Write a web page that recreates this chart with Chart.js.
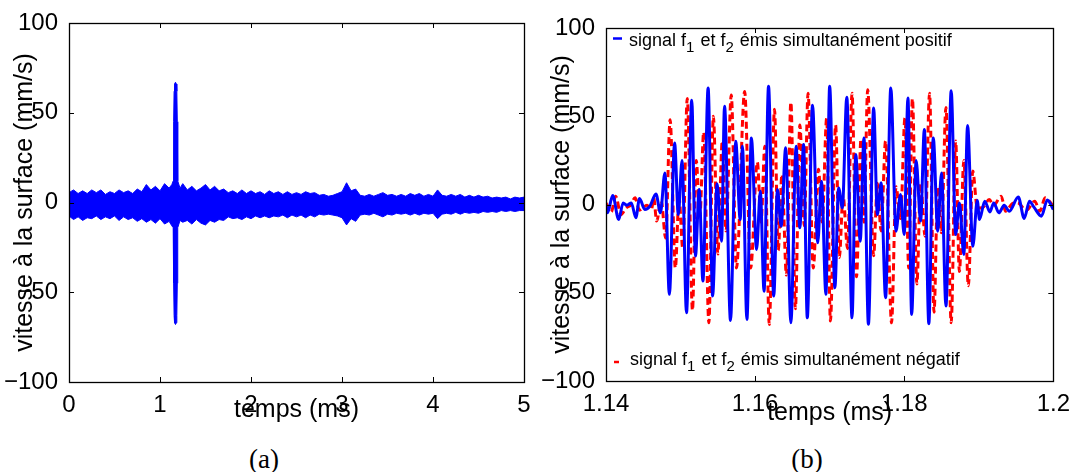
<!DOCTYPE html>
<html>
<head>
<meta charset="utf-8">
<script src="https://cdn.jsdelivr.net/npm/chart.js@4.4.0/dist/chart.umd.min.js"></script>
<style>
  body { margin: 0; background: #fff; width: 1071px; height: 472px; position: relative; overflow: hidden; }
  .panel { position: absolute; top: 0; height: 440px; }
  #wa { left: 0; width: 540px; }
  #wb { left: 540px; width: 531px; }
  .cap { position: absolute; top: 444px; width: 100px; text-align: center; line-height: 30px;
         font-family: "Liberation Serif", serif; font-size: 27px; color: #000; }
</style>
</head>
<body>
<div class="panel" id="wa"><canvas id="chartA"></canvas></div>
<div class="panel" id="wb"><canvas id="chartB"></canvas></div>
<div class="cap" style="left:214px">(a)</div>
<div class="cap" style="left:757px">(b)</div>
<script>
// (a) full record: envelope of the noisy band + spike at 1.17 ms
const timeA = [0, 0.05, 0.1, 0.15, 0.2, 0.25, 0.3, 0.35, 0.4, 0.45, 0.5, 0.55, 0.6, 0.65, 0.7, 0.75, 0.8, 0.85, 0.9, 0.95,
  1.0, 1.05, 1.1, 1.13, 1.145, 1.15, 1.155, 1.16, 1.17, 1.18, 1.185, 1.19, 1.195, 1.22, 1.25, 1.3, 1.35, 1.4, 1.45,
  1.5, 1.55, 1.6, 1.65, 1.7, 1.75, 1.8, 1.85, 1.9, 1.95, 2.0, 2.05, 2.1, 2.15, 2.2, 2.25, 2.3, 2.35, 2.4, 2.45,
  2.5, 2.55, 2.6, 2.65, 2.7, 2.75, 2.8, 2.85, 2.9, 2.95, 3.0, 3.05, 3.1, 3.15, 3.2, 3.25, 3.3, 3.35, 3.4, 3.45,
  3.5, 3.55, 3.6, 3.65, 3.7, 3.75, 3.8, 3.85, 3.9, 3.95, 4.0, 4.05, 4.1, 4.15, 4.2, 4.25, 4.3, 4.35, 4.4, 4.45,
  4.5, 4.55, 4.6, 4.65, 4.7, 4.75, 4.8, 4.85, 4.9, 4.95, 5.0]
const upperA = [5.5, 7, 5, 6.5, 5, 7, 5.5, 7, 4.5, 6, 5, 7, 5.5, 6.5, 5, 7.5, 6, 10, 7, 9,
  6.5, 10.5, 8, 10, 12, 45, 62, 66, 67, 66, 62, 45, 12, 8, 10.5, 7, 9, 6.5, 8,
  10, 7, 9, 6.5, 7.5, 5.5, 6.5, 5, 7, 5, 6.5, 5, 6, 4.5, 6.5, 5, 6, 4.5, 6, 4.5,
  5.5, 4.5, 6, 5, 5.5, 4, 4.5, 3.5, 4, 5, 6, 11, 6.5, 7.5, 4, 3.5, 4.5, 3.5, 4.5, 5.5,
  4, 4.5, 3.5, 4.5, 3.5, 5, 4, 5, 3.5, 4.5, 3.5, 7, 4, 3.5, 4.5, 3.5, 4.5, 3, 4, 3,
  4, 3, 3.5, 2.5, 3, 2.5, 3, 2, 3, 2.5, 3]
const lowerA = [-7.5, -9.5, -8, -10, -8.5, -9, -7.5, -9.5, -8, -9, -7.5, -10, -8, -9.5, -8.5, -10.5, -9, -11, -9.5, -11.5,
  -9, -12, -10.5, -13, -14, -45, -63, -67, -68, -67, -63, -45, -14, -10, -11, -10, -12, -9.5, -11.5,
  -12.5, -10, -11, -9.5, -10, -8, -9, -8.5, -9.5, -8, -9, -7.5, -8.5, -7.5, -8.5, -7.5, -8, -7, -8.5, -7,
  -8, -7, -8.5, -7, -8, -6.5, -7, -6.5, -7, -7.5, -8.5, -12.5, -9, -10.5, -7, -6.5, -7, -6, -7, -8,
  -6.5, -7, -6, -6.5, -6, -7, -6, -7, -6, -6.5, -6, -9, -6.5, -6, -6.5, -5.5, -6.5, -5.5, -6, -5.5,
  -6, -5, -5.5, -5, -5.5, -4.5, -5, -4.5, -5, -4.5, -4.5]

// (b) zoom on the burst: extrema
const timeBlue = [1.14, 1.1402, 1.1409, 1.1417, 1.1423, 1.1428, 1.1434, 1.144, 1.1445, 1.1452, 1.1459, 1.1467, 1.1473,
  1.1479, 1.1485, 1.1492, 1.1497, 1.1502, 1.1508, 1.1515, 1.152, 1.1525, 1.153, 1.1537, 1.1543, 1.1549, 1.1555,
  1.1559, 1.1567, 1.1574, 1.158, 1.1583, 1.1589, 1.1595, 1.1602, 1.1607, 1.1612, 1.1618, 1.1625, 1.163, 1.1635,
  1.1641, 1.1648, 1.1655, 1.166, 1.1665, 1.167, 1.1677, 1.1684, 1.1689, 1.1695, 1.17, 1.1707, 1.1712, 1.1717,
  1.1723, 1.173, 1.1735, 1.1741, 1.1746, 1.1752, 1.1759, 1.1764, 1.1769, 1.1775, 1.1782, 1.1789, 1.1795, 1.18,
  1.1805, 1.181, 1.1816, 1.1822, 1.1827, 1.1833, 1.1839, 1.1845, 1.185, 1.1856, 1.1863, 1.1869, 1.1874, 1.188,
  1.1885, 1.1892, 1.1898, 1.1901, 1.1908, 1.1915, 1.192, 1.1927, 1.1934, 1.1941, 1.1953, 1.1961, 1.1968, 1.1974,
  1.1984, 1.1992, 1.2]
const blueValues = [-0.9, -4.7, 5.1, -8.5, 0.9, -0.4, 0.9, -7.5, 3.4, -2.8, -0.9, 6, -4.7,
  17.9, -50.9, 34.9, -5.7, 24.9, -61.3, 59.1, -29.2, 8.5, -43.4, 66, -51.9, 11.7, -20.8,
  55.7, -65.7, 35.8, -8.5, 33, -65.1, 37.7, -25.5, 7.5, -49.1, 67, -51.9, 8.5, -12.3,
  32.1, -67, 33, -13.2, 34, -64.2, 56.2, -21.7, 13.2, -50.9, 67, -47.2, 9.4, -1.9,
  60.8, -64.2, 28.3, -20.8, 37.7, -67.9, 54.7, -5.7, 12.3, -52.8, 66, -15.1, 5.7, -17,
  60.4, -62.3, 24.9, -9.4, 42.5, -67.5, 37.7, -15.1, 17.9, -57.5, 64.5, -17, 0.9, -28.3,
  44.7, -23.6, 2.3, -8.5, 1.9, -4.2, 0.9, -4.7, -0.4, -3.8, 4.2, -7.9, 1.9, -1.5,
  -6.6, 2.5, -2.8]

const timeRed = [1.14, 1.1407, 1.1413, 1.142, 1.1427, 1.1433, 1.1439, 1.1445, 1.1455, 1.1461, 1.1464, 1.1468, 1.1474,
  1.148, 1.1486, 1.1493, 1.1498, 1.1503, 1.1509, 1.1516, 1.1521, 1.1526, 1.1531, 1.1538, 1.1544, 1.155, 1.1556,
  1.1561, 1.1568, 1.1575, 1.1586, 1.1594, 1.1603, 1.1608, 1.1613, 1.1619, 1.1626, 1.1631, 1.1636, 1.1642, 1.1648,
  1.1654, 1.166, 1.1666, 1.1671, 1.1678, 1.1685, 1.169, 1.1696, 1.1701, 1.1708, 1.1713, 1.1718, 1.1724, 1.173,
  1.1736, 1.1742, 1.1746, 1.1751, 1.1759, 1.1764, 1.1769, 1.1775, 1.1783, 1.1789, 1.1795, 1.1801, 1.1806, 1.1811,
  1.1817, 1.1822, 1.1828, 1.1834, 1.184, 1.1845, 1.185, 1.1856, 1.1863, 1.1869, 1.1874, 1.188, 1.1886, 1.1892,
  1.1898, 1.1905, 1.1914, 1.192, 1.193, 1.1936, 1.1945, 1.1952, 1.1964, 1.1975, 1.1982, 1.1989, 1.2]
const redValues = [0.9, -4.2, 4.7, -5.7, -1.9, -0.4, 3.8, -3.2, -0.4, -2.8, 3.7, -9.4, 2.3,
  -19, 48, -36, 4, -25, 60, -60, 25, -6, 41, -67, 50, -28, 36,
  -15, 62, -36, 64, -36, 24, -10, 33, -68, 54, -26, 17, -40, 58,
  -59, 45, -12, 63, -36, 20, -10, 49, -66, 45, -30, 5, -25, 63,
  -41, 37, -10, 65, -29, 12, -15, 36, -67, 10, -8, 49, -36, 60,
  -45, 12, -18, 63, -61, 10, -16, 55, -67, 36, -38, 25, -46, 19,
  -2, -1.9, 2.8, -0.5, 4.7, -3.8, 0.5, 1, -3.4, 1.9, -3.8, 3.8, -0.9]

const yTicks = [-100, -50, 0, 50, 100]
const xTicksA = [0, 1, 2, 3, 4, 5]
const xTicksB = [1.14, 1.16, 1.18, 1.2]
const labelPos = "signal f_1 et f_2 émis simultanément positif"
const labelNeg = "signal f_1 et f_2 émis simultanément négatif"

const FONT = '"Liberation Sans", Arial, sans-serif'
const toXY = (xs, ys) => xs.map((x, i) => ({ x: x, y: ys[i] }))
const fmt = (v) => String(Number(v.toFixed(2))).replace('-', '\u2212')

// MATLAB style box with inward ticks on all four sides
const framePlugin = {
    id: 'frame',
    afterDatasetsDraw(chart) {
        const { ctx, chartArea: a, scales: { x, y } } = chart
        ctx.save()
        ctx.strokeStyle = '#000'
        ctx.lineWidth = 1
        ctx.beginPath()
        x.ticks.forEach((t) => {
            const px = Math.round(x.getPixelForValue(t.value)) + 0.5
            ctx.moveTo(px, a.bottom); ctx.lineTo(px, a.bottom - 5)
            ctx.moveTo(px, a.top); ctx.lineTo(px, a.top + 5)
        })
        y.ticks.forEach((t) => {
            const py = Math.round(y.getPixelForValue(t.value)) + 0.5
            ctx.moveTo(a.left, py); ctx.lineTo(a.left + 5, py)
            ctx.moveTo(a.right, py); ctx.lineTo(a.right - 5, py)
        })
        ctx.stroke()
        ctx.lineWidth = 1.3
        ctx.strokeRect(Math.round(a.left) + 0.5, Math.round(a.top) + 0.5, Math.round(a.width), Math.round(a.height))
        ctx.restore()
    }
}

// legend entries with subscripts: first one top-left, second bottom-left
function drawLabel(ctx, text, x, y, size) {
    const parts = text.split(/_(\d)/)
    parts.forEach((p, i) => {
        const sub = i % 2 === 1
        ctx.font = (sub ? Math.round(size * 0.85) : size) + 'px ' + FONT
        ctx.fillText(p, x, sub ? y + 6 : y)
        x += ctx.measureText(p).width + (sub ? 1 : 0)
    })
}
const legendPlugin = {
    id: 'subLegend',
    afterDatasetsDraw(chart) {
        const { ctx, chartArea: a } = chart
        const ds = chart.data.datasets
        ctx.save()
        ctx.fillStyle = '#000'
        ctx.textBaseline = 'alphabetic'
        ctx.lineWidth = 2.5
        ctx.strokeStyle = ds[0].borderColor
        ctx.beginPath(); ctx.moveTo(a.left + 7, a.top + 10.5); ctx.lineTo(a.left + 16, a.top + 10.5); ctx.stroke()
        drawLabel(ctx, ds[0].label, a.left + 23, a.top + 18, 18)
        ctx.strokeStyle = ds[1].borderColor
        ctx.beginPath(); ctx.moveTo(a.left + 8, a.bottom - 19); ctx.lineTo(a.left + 13, a.bottom - 19); ctx.stroke()
        drawLabel(ctx, ds[1].label, a.left + 24, a.bottom - 16, 18)
        ctx.restore()
    }
}

function axes(xMin, xMax, xTicks, yWidth, yTitlePad, xTitlePad) {
    return {
        x: {
            type: 'linear', min: xMin, max: xMax,
            grid: { display: false }, border: { display: false },
            afterBuildTicks: (s) => { s.ticks = xTicks.map((v) => ({ value: v })) },
            afterFit: (s) => { s.height = 50 },
            ticks: { color: '#000', padding: 1, maxRotation: 0, font: { family: FONT, size: 24 }, callback: (v) => fmt(v) },
            title: { display: true, text: 'temps (ms)', color: '#000', padding: { top: 0, bottom: xTitlePad }, font: { family: FONT, size: 25 } }
        },
        y: {
            min: -100, max: 100,
            grid: { display: false }, border: { display: false },
            afterBuildTicks: (s) => { s.ticks = yTicks.map((v) => ({ value: v })) },
            afterFit: (s) => { s.width = yWidth },
            ticks: { color: '#000', padding: 3, font: { family: FONT, size: 24 }, callback: (v) => fmt(v) },
            title: { display: true, text: 'vitesse à la surface (mm/s)', color: '#000', padding: { top: yTitlePad, bottom: 0 }, font: { family: FONT, size: 25 } }
        }
    }
}

new Chart(document.getElementById('chartA'), {
    type: 'line',
    data: {
        datasets: [
            { data: toXY(timeA, upperA), borderColor: '#0000ff', borderWidth: 1, pointRadius: 0, fill: false },
            { data: toXY(timeA, lowerA), borderColor: '#0000ff', backgroundColor: '#0000ff', borderWidth: 1, pointRadius: 0, fill: '-1' }
        ]
    },
    options: {
        responsive: true, maintainAspectRatio: false, animation: false,
        layout: { padding: { left: 0, top: 23, right: 16, bottom: 8 } },
        plugins: { legend: { display: false }, tooltip: { enabled: false } },
        scales: axes(0, 5, xTicksA, 69, 10, 7)
    },
    plugins: [framePlugin]
})

new Chart(document.getElementById('chartB'), {
    type: 'line',
    data: {
        datasets: [
            { label: labelPos, data: toXY(timeBlue, blueValues), borderColor: '#0000ff', borderWidth: 3,
              pointRadius: 0, cubicInterpolationMode: 'monotone' },
            { label: labelNeg, data: toXY(timeRed, redValues), borderColor: '#ff0000', borderWidth: 3,
              borderDash: [7, 4], pointRadius: 0, cubicInterpolationMode: 'monotone' }
        ]
    },
    options: {
        responsive: true, maintainAspectRatio: false, animation: false,
        layout: { padding: { left: 0, top: 28, right: 17, bottom: 9 } },
        plugins: { legend: { display: false }, tooltip: { enabled: false } },
        scales: axes(1.14, 1.2, xTicksB, 66, 7, 3)
    },
    plugins: [framePlugin, legendPlugin]
})
</script>
</body>
</html>
